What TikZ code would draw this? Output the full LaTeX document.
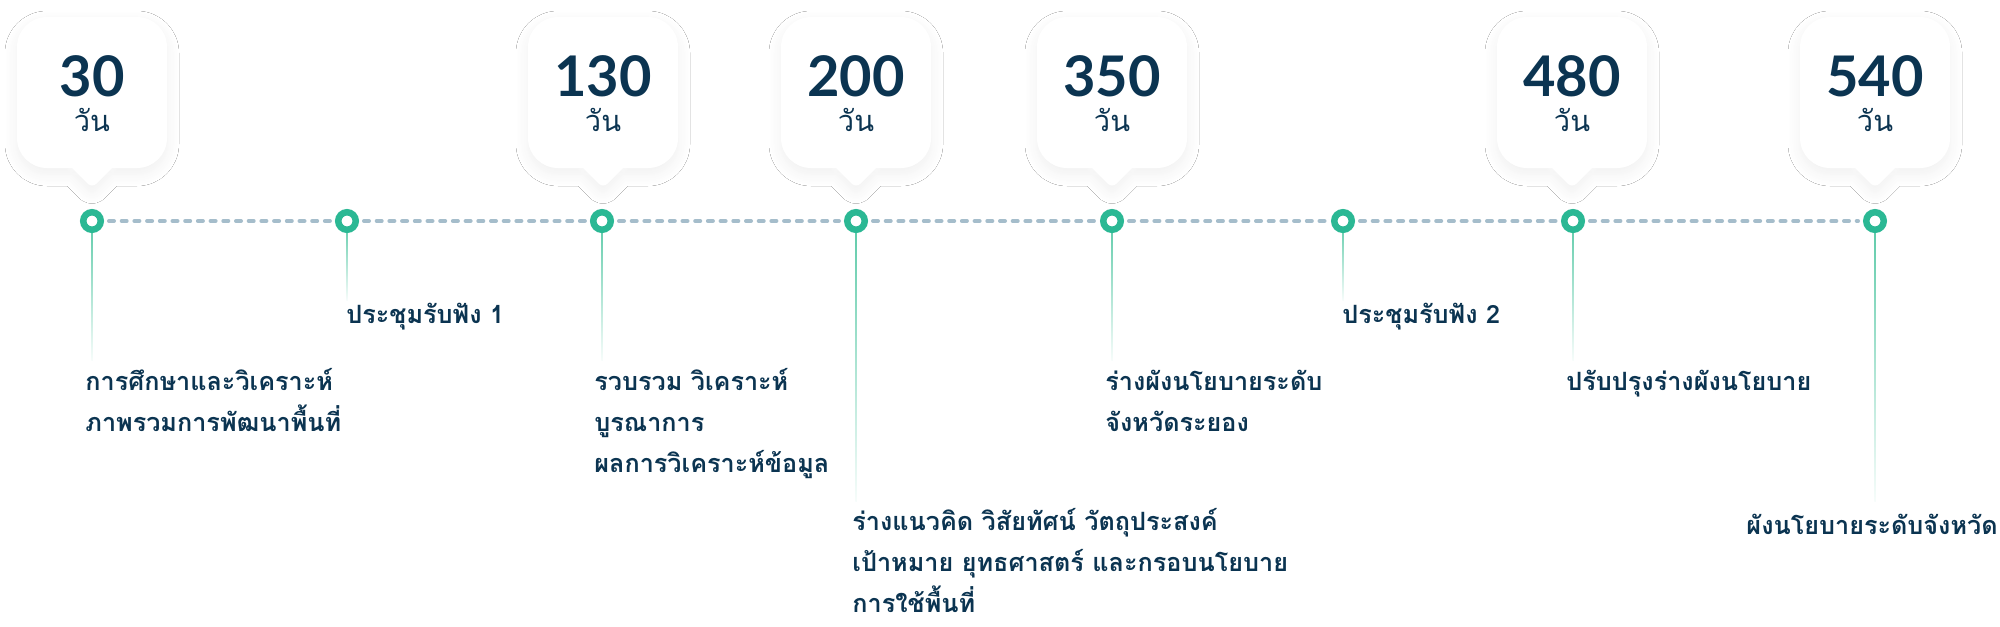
\documentclass[tikz,border=0pt]{standalone}
\usepackage{fontspec}
\setmainfont{Lato}
\newfontfamily\thai[Script=Thai]{Loma}
\usetikzlibrary{shadows.blur,calc}
\definecolor{navy}{HTML}{0B3451}
\definecolor{tgreen}{HTML}{2BB894}
\definecolor{lgreen}{HTML}{5CCAA8}
\definecolor{dashc}{HTML}{A5BDCB}
\newcommand\mybubble[1]{%
  \path[bubble] [rounded corners=15pt] (#1-75,17) rectangle (#1+75,168)
    [rounded corners=3pt] (#1-24,164) -- (#1,188) -- (#1+24,164) -- cycle;}
\begin{document}
\begin{tikzpicture}[x=0.5pt,y=-0.5pt,
 dot/.style={circle, draw=tgreen, line width=3.25pt, fill=white, minimum size=8.75pt, inner sep=0pt},
 num/.style={anchor=base, text=navy, font=\fontsize{28}{30}\selectfont\bfseries, inner sep=0pt},
 day/.style={anchor=base, text=navy, font=\thai\fontsize{14.5}{18}\selectfont, inner sep=0pt},
 lbl/.style={anchor=base west, text=navy, align=left, font=\thai\bfseries\fontsize{12.6}{20.5}\selectfont, inner sep=0pt},
 dashline/.style={dashc, line width=2pt, line cap=round, dash pattern=on 2.5pt off 3.85pt, shorten <=2.5pt, shorten >=2.5pt},
 bubble/.style={fill=white, blur shadow={shadow xshift=0pt, shadow yshift=-3pt, shadow blur radius=6pt, shadow blur steps=12, shadow opacity=6}},
 stem/.style={top color=lgreen, middle color=lgreen!80, bottom color=lgreen!5},
]
\fill[white] (0,0) rectangle (2000,626);
\useasboundingbox (0,0) rectangle (2000,626);

% callouts
\mybubble{92}
\mybubble{603}
\mybubble{856}
\mybubble{1112}
\mybubble{1572}
\mybubble{1875}

\node[num] (n1) at (92,97) {30};
\node[day] (d1) at (92,132) {วัน};
\node[num] (n3) at (603,97) {130};
\node[day] (d3) at (603,132) {วัน};
\node[num] (n4) at (856,97) {200};
\node[day] (d4) at (856,132) {วัน};
\node[num] (n5) at (1112,97) {350};
\node[day] (d5) at (1112,132) {วัน};
\node[num] (n7) at (1572,97) {480};
\node[day] (d7) at (1572,132) {วัน};
\node[num] (n8) at (1875,97) {540};
\node[day] (d8) at (1875,132) {วัน};

% stem ends
\coordinate (e1) at (92,360);
\coordinate (e2) at (347,300);
\coordinate (e3) at (602,360);
\coordinate (e4) at (856,501);
\coordinate (e5) at (1112,360);
\coordinate (e6) at (1343,300);
\coordinate (e7) at (1573,360);
\coordinate (e8) at (1875,501);

% stems
\foreach \i in {1,...,8}{
  \coordinate (s\i) at (e\i |- 0,221);
  \shade[stem] ($(s\i)+(-0.75,0)$) rectangle ($(e\i)+(0.75,0)$);
}

% dots
\node[dot] (c1) at (92,221) {};
\node[dot] (c2) at (347,221) {};
\node[dot] (c3) at (602,221) {};
\node[dot] (c4) at (856,221) {};
\node[dot] (c5) at (1112,221) {};
\node[dot] (c6) at (1343,221) {};
\node[dot] (c7) at (1573,221) {};
\node[dot] (c8) at (1875,221) {};

% dashed timeline
\draw[dashline] (c1) -- (c2);
\draw[dashline] (c2) -- (c3);
\draw[dashline] (c3) -- (c4);
\draw[dashline] (c4) -- (c5);
\draw[dashline] (c5) -- (c6);
\draw[dashline] (c6) -- (c7);
\draw[dashline] (c7) -- (c8);

% labels (anchor = baseline of last line)
\node[lbl] (t1) at (85,431) {การศึกษาและวิเคราะห์\\ภาพรวมการพัฒนาพื้นที่};
\node[lbl] (t2) at (346,323) {ประชุมรับฟัง 1};
\node[lbl] (t3) at (594,472) {รวบรวม วิเคราะห์\\บูรณาการ\\ผลการวิเคราะห์ข้อมูล};
\node[lbl] (t4) at (852,612) {ร่างแนวคิด วิสัยทัศน์ วัตถุประสงค์\\เป้าหมาย ยุทธศาสตร์ และกรอบนโยบาย\\การใช้พื้นที่};
\node[lbl] (t5) at (1105,431) {ร่างผังนโยบายระดับ\\จังหวัดระยอง};
\node[lbl] (t6) at (1342,323) {ประชุมรับฟัง 2};
\node[lbl] (t7) at (1566,390) {ปรับปรุงร่างผังนโยบาย};
\node[lbl, anchor=base east] (t8) at (1998,534) {ผังนโยบายระดับจังหวัด};
\end{tikzpicture}
\end{document}
